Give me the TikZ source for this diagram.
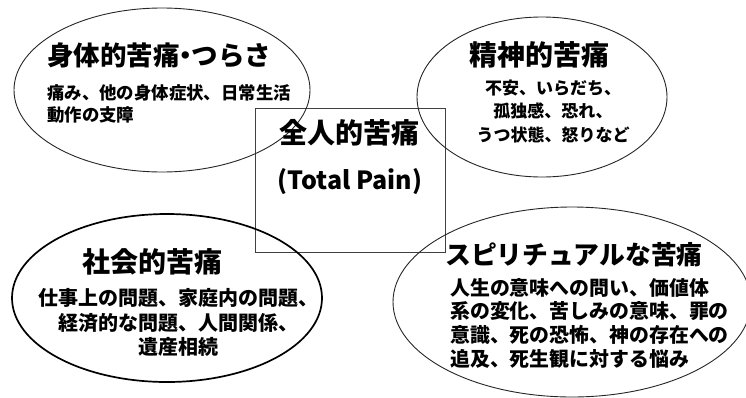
\documentclass[tikz,border=0pt]{standalone}
\usepackage{fontspec}
\usetikzlibrary{shapes.geometric}
\newfontfamily\jp{Noto Sans CJK JP}
\begin{document}
\begin{tikzpicture}[x=1pt,y=-1pt,
  ring/.style={draw=black!85, line width=0.9pt, ellipse, inner sep=0pt},
  thickring/.style={draw=black, line width=1.7pt, ellipse, inner sep=0pt},
  centerbox/.style={draw=black!75, line width=0.9pt, rectangle, inner sep=0pt, anchor=north west},
  txt/.style={inner sep=0pt, text=black},
  fs/.style 2 args={font=\jp\bfseries\fontsize{#1}{#2}\selectfont}
]
\useasboundingbox (0,0) rectangle (746,397);
\clip (0,0) rectangle (746,397);

% shapes
\node[centerbox, minimum width=190pt, minimum height=144pt] (box) at (255,108) {};
\node[ring, minimum width=296pt, minimum height=164pt] (e1) at (162,90) {};
\node[ring, minimum width=250pt, minimum height=160pt] (e2) at (542,97) {};
\node[thickring, minimum width=310pt, minimum height=168pt] (e3) at (167,298) {};
\node[ring, minimum width=358pt, minimum height=190pt] (e4) at (572,302) {};

% ellipse 1
\node[txt, fs={26.5}{30}, anchor=west] (t1) at (47,55) {身体的苦痛\kern-.27em・\kern-.27em つらさ};
\node[txt, fs={17.4}{22}, anchor=west, align=left] (b1) at (47,104) {痛み、他の身体症状、日常生活\\動作の支障};

% ellipse 2
\node[txt, fs={28}{32}] (t2) at (539,55) {精神的苦痛};
\node[txt, fs={17}{23.5}, align=center] (b2) at (553,111.5) {不安、いらだち、\\孤独感、恐れ、\\うつ状態、怒りなど};

% center
\node[txt, fs={28}{32}] (tc) at (349,133) {全人的苦痛};
\node[txt, fs={25}{30}] (tp) at (350,182) {(Total Pain)};

% ellipse 3
\node[txt, fs={28}{32}] (t3) at (152,262) {社会的苦痛};
\node[txt, fs={20}{24.5}, align=center] (b3) at (178,322.5) {仕事上の問題、家庭内の問題、\\経済的な問題、人間関係、\\遺産相続};

% ellipse 4
\node[txt, fs={19.9}{23.7}, anchor=west, align=left] (b4) at (450,323) {人生の意味への問い、価値体\\系の変化、苦しみの意味、罪の\\意識、死の恐怖、神の存在への\\追及、死生観に対する悩み};
\node[txt, fs={25.8}{30}] (t4) at (574,255) {スピリチュアルな苦痛};
\end{tikzpicture}
\end{document}
